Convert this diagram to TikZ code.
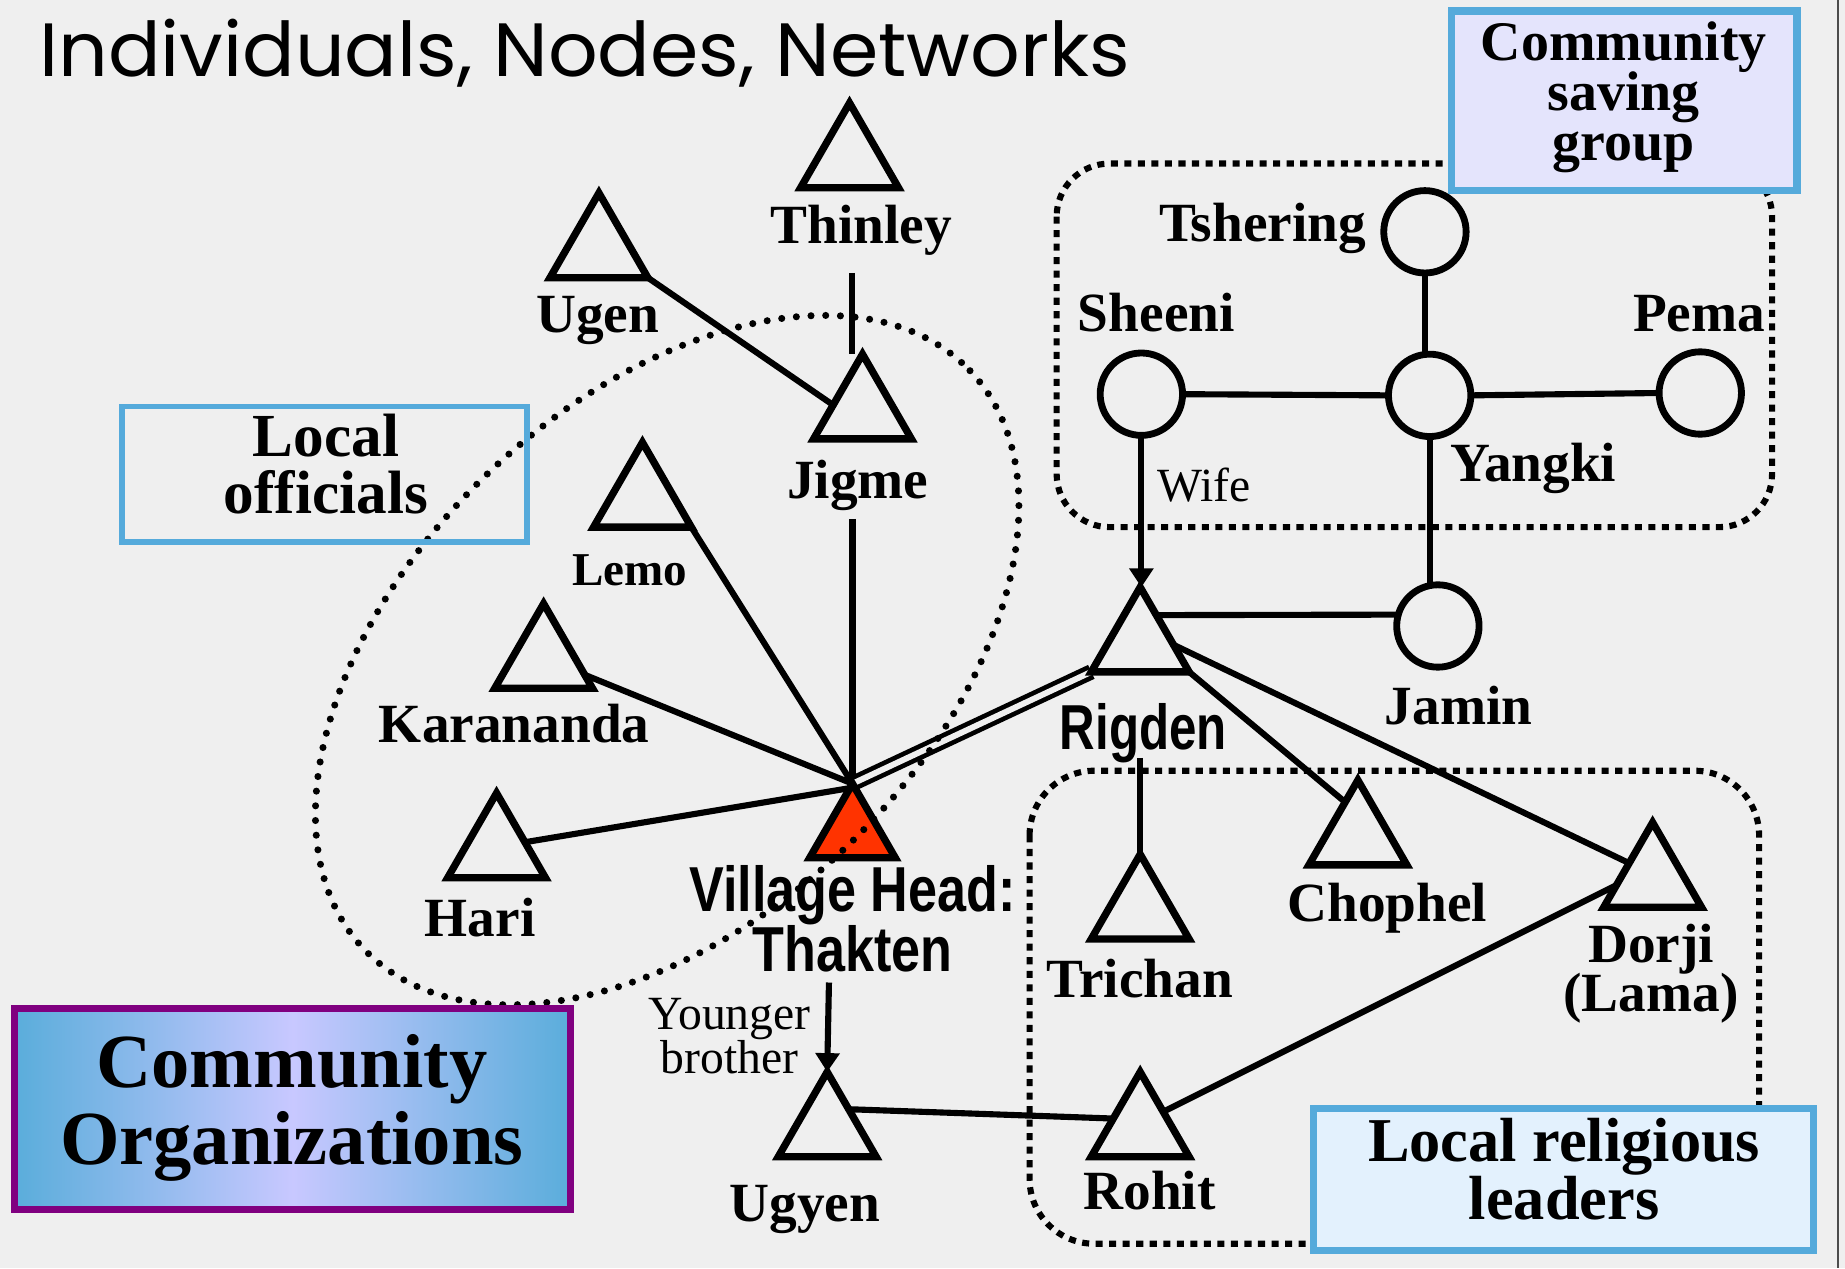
\documentclass[tikz,border=0pt]{standalone}
\usepackage{fontspec}
\usepackage{graphicx}
\setmainfont{Liberation Serif}
\newfontfamily\sansb{Liberation Sans}
\newfontfamily\titlefont{Poppins}
\usetikzlibrary{shapes.geometric,arrows.meta,calc}
\definecolor{bgc}{HTML}{EFEFEF}
\definecolor{boxblue}{HTML}{55AADB}
\definecolor{lav}{HTML}{E4E4FC}
\definecolor{lightblue}{HTML}{E3F1FD}
\definecolor{purp}{HTML}{800080}
\definecolor{gradblue}{HTML}{5AADDB}
\definecolor{gradmid}{HTML}{C8C8FF}
\definecolor{headred}{HTML}{FF3300}
\pgfdeclarelayer{bglayer}
\pgfdeclarelayer{edgelayer}
\pgfsetlayers{bglayer,edgelayer,main}
\begin{document}
\begin{tikzpicture}[x=1pt,y=-1pt,
  malenode/.style={regular polygon, regular polygon sides=3, draw, line width=6.2pt,
    minimum size=96pt, inner sep=0pt, outer sep=0pt},
  femnode/.style={circle, draw, line width=5.8pt, minimum size=70pt, inner sep=0pt, outer sep=0pt},
  lbl/.style={anchor=base, inner sep=0pt, font=\fontsize{47}{47}\selectfont\bfseries},
  smalllbl/.style={anchor=base, inner sep=0pt, font=\fontsize{40}{40}\selectfont\bfseries},
  rellbl/.style={anchor=base, inner sep=0pt, font=\fontsize{40.5}{40.5}\selectfont},
  sanslbl/.style={anchor=base, inner sep=0pt, font=\fontsize{54}{54}\selectfont\sansb\bfseries},
  conn/.style={line width=5.2pt},
  dbl/.style={line width=4pt, double=bgc, double distance=5pt},
  arrowed/.style={-{Triangle[width=20pt,length=16pt]}},
  sqdots/.style={line width=5.2pt, dash pattern=on 6pt off 5.5pt},
  rounddots/.style={line width=6pt, dash pattern=on 0pt off 12.5pt, line cap=round},
  boxtxt/.style={anchor=base, inner sep=0pt},
]
\useasboundingbox (0,0) rectangle (1568,1078);
\begin{pgfonlayer}{bglayer}
  \fill[bgc] (0,0) rectangle (1568,1078);
\end{pgfonlayer}
\draw[line width=1.5pt, black!70] (1562,0) -- (1562,1078);

% title
\node[anchor=base west, inner sep=0pt] (title) at (33,65.2)
  {\resizebox{927pt}{48.8pt}{\titlefont Individuals, Nodes, Networks}};

% triangles (men)
\node[malenode] (thinley) at (722,135.5) {};
\node[malenode] (ugen) at (509,212) {};
\node[malenode] (jigme) at (733,349) {};
\node[malenode] (lemo) at (546,424) {};
\node[malenode] (karananda) at (462,561) {};
\node[malenode] (hari) at (422,722) {};
\node[malenode, fill=headred, minimum size=84pt] (thakten) at (724.5,708) {};
\node[malenode] (rigden) at (969,547) {};
\node[malenode] (trichan) at (969,774) {};
\node[malenode] (chophel) at (1154,711) {};
\node[malenode] (dorji) at (1404.5,747) {};
\node[malenode] (rohit) at (969,959) {};
\node[malenode] (ugyen) at (703,959) {};

% circles (women)
\node[femnode] (tshering) at (1211,197) {};
\node[femnode] (sheeni) at (970,335) {};
\node[femnode] (yangki) at (1215,336) {};
\node[femnode] (pema) at (1445,334) {};
\node[femnode] (jamin) at (1222,532) {};

% labels
\node[lbl] (thinleyl) at (732,207) {Thinley};
\node[lbl] (ugenl) at (508,283) {Ugen};
\node[lbl] (jigmel) at (729,424) {Jigme};
\node[smalllbl] (lemol) at (535,498) {Lemo};
\node[lbl] (karanandal) at (437,631) {Karananda};
\node[lbl] (haril) at (408,795.5) {Hari};
\node[sanslbl] (thaktenl1) at (724.5,775) {\scalebox{0.82}[1]{Village Head:}};
\node[sanslbl] (thaktenl2) at (724.8,826) {\scalebox{0.82}[1]{Thakten}};
\node[sanslbl] (rigdenl) at (971.6,637) {\scalebox{0.775}[1]{Rigden}};
\node[lbl] (tsheringl) at (1073,205.4) {Tshering};
\node[lbl] (sheenil) at (982.7,282) {Sheeni};
\node[lbl] (pemal) at (1444,282) {Pema};
\node[lbl] (yangkil) at (1303,409.4) {Yangki};
\node[lbl] (jaminl) at (1239.5,616) {Jamin};
\node[lbl] (chophell) at (1179,783.4) {Chophel};
\node[lbl] (trichanl) at (968.6,847.8) {Trichan};
\node[lbl] (dorjil1) at (1403.4,817.7) {Dorji};
\node[lbl] (dorjil2) at (1403,860) {(Lama)};
\node[lbl] (rohitl) at (977,1028) {Rohit};
\node[lbl] (ugyenl) at (684,1038) {Ugyen};
\node[rellbl] (youngerl1) at (620,874.6) {Younger};
\node[rellbl] (youngerl2) at (620,912) {brother};
\node[rellbl] (wifel) at (1023,426.3) {Wife};

% free ends of connectors
\coordinate (thinleyend) at (724,232);
\coordinate (jigmeend) at (724.5,441);
\coordinate (rigdenend) at (969,644);
\coordinate (thaktenend) at (704.5,835);

\begin{pgfonlayer}{edgelayer}
  \draw[conn] (thinleyend) -- (thinleyend |- jigme.north);
  \draw[conn] (ugen.corner 3) -- ($(jigme.corner 1)!0.6!(jigme.corner 2)$);
  \draw[conn] (jigmeend) -- (thakten.north);
  \draw[conn] (lemo.corner 3) -- (thakten.north);
  \draw[conn] ($(karananda.corner 1)!0.84!(karananda.corner 3)$) -- (thakten.north);
  \draw[conn] ($(hari.corner 1)!0.58!(hari.corner 3)$) -- ($(thakten.corner 1)!0.06!(thakten.corner 2)$);
  \draw[dbl] (thakten.north) -- (rigden.corner 2);
  \draw[conn] ($(rigden.corner 1)!0.33!(rigden.corner 3)$) -- (jamin.164);
  \draw[conn] (rigdenend) -- (trichan.north);
  \draw[conn] (rigden.corner 3) -- ($(chophel.corner 1)!0.26!(chophel.corner 2)$);
  \draw[conn] ($(rigden.corner 1)!0.68!(rigden.corner 3)$) -- ($(dorji.corner 1)!0.48!(dorji.corner 2)$);
  \draw[conn] ($(rohit.corner 1)!0.47!(rohit.corner 3)$) -- ($(dorji.corner 1)!0.74!(dorji.corner 2)$);
  \draw[conn] ($(ugyen.corner 1)!0.44!(ugyen.corner 3)$) -- ($(rohit.corner 1)!0.55!(rohit.corner 2)$);
  \draw[conn, arrowed] (thaktenend) -- (ugyen.north);
  \draw[conn, arrowed] (sheeni.south) -- (sheeni.south |- rigden.north);
  \draw[conn] (tshering.south) -- (tshering.south |- yangki.north);
  \draw[conn] (sheeni.east) -- (yangki.west);
  \draw[conn] (yangki.east) -- (pema.west);
  \draw[conn] (yangki.south) -- (yangki.south |- jamin.north);
\end{pgfonlayer}

% group outlines
\draw[rounddots, rotate around={43.7:(567,561)}] (567,561) ellipse [x radius=356, y radius=220];
\draw[sqdots, rounded corners=45pt] (898,139) rectangle (1506,448);
\draw[sqdots, rounded corners=55pt] (875,655) rectangle (1495,1057);

% boxes
\node[draw=boxblue, line width=5pt, minimum width=344.5pt, minimum height=114.8pt,
  inner sep=0pt, outer sep=0pt] (officialsbox) at (275.8,402.9) {};
\node[boxtxt, font=\fontsize{52}{52}\selectfont\bfseries] (officials1) at (277,388) {Local};
\node[boxtxt, font=\fontsize{52}{52}\selectfont\bfseries] (officials2) at (277,436.5) {officials};

\node[draw=boxblue, fill=lav, line width=6pt, minimum width=293.8pt, minimum height=152.7pt,
  inner sep=0pt, outer sep=0pt] (savingbox) at (1380.3,85.7) {};
\node[boxtxt, font=\fontsize{47.5}{47.5}\selectfont\bfseries] (saving1) at (1380,51) {Community};
\node[boxtxt, font=\fontsize{47.5}{47.5}\selectfont\bfseries] (saving2) at (1380,93.5) {saving};
\node[boxtxt, font=\fontsize{47.5}{47.5}\selectfont\bfseries] (saving3) at (1380,136) {group};

\node[draw=boxblue, fill=lightblue, line width=5.7pt, minimum width=424.9pt, minimum height=121pt,
  inner sep=0pt, outer sep=0pt] (religbox) at (1329,1002.5) {};
\node[boxtxt, font=\fontsize{53}{53}\selectfont\bfseries] (relig1) at (1329.3,987.2) {Local religious};
\node[boxtxt, font=\fontsize{53}{53}\selectfont\bfseries] (relig2) at (1329.3,1036.8) {leaders};

\node[draw=purp, line width=5.7pt, left color=gradblue, right color=gradblue, middle color=gradmid,
  minimum width=472.4pt, minimum height=171pt, inner sep=0pt, outer sep=0pt] (orgbox) at (248.8,942.5) {};
\node[boxtxt, font=\fontsize{65}{65}\selectfont\bfseries] (org1) at (248,924) {Community};
\node[boxtxt, font=\fontsize{65}{65}\selectfont\bfseries] (org2) at (248,990) {Organizations};
\end{tikzpicture}
\end{document}
